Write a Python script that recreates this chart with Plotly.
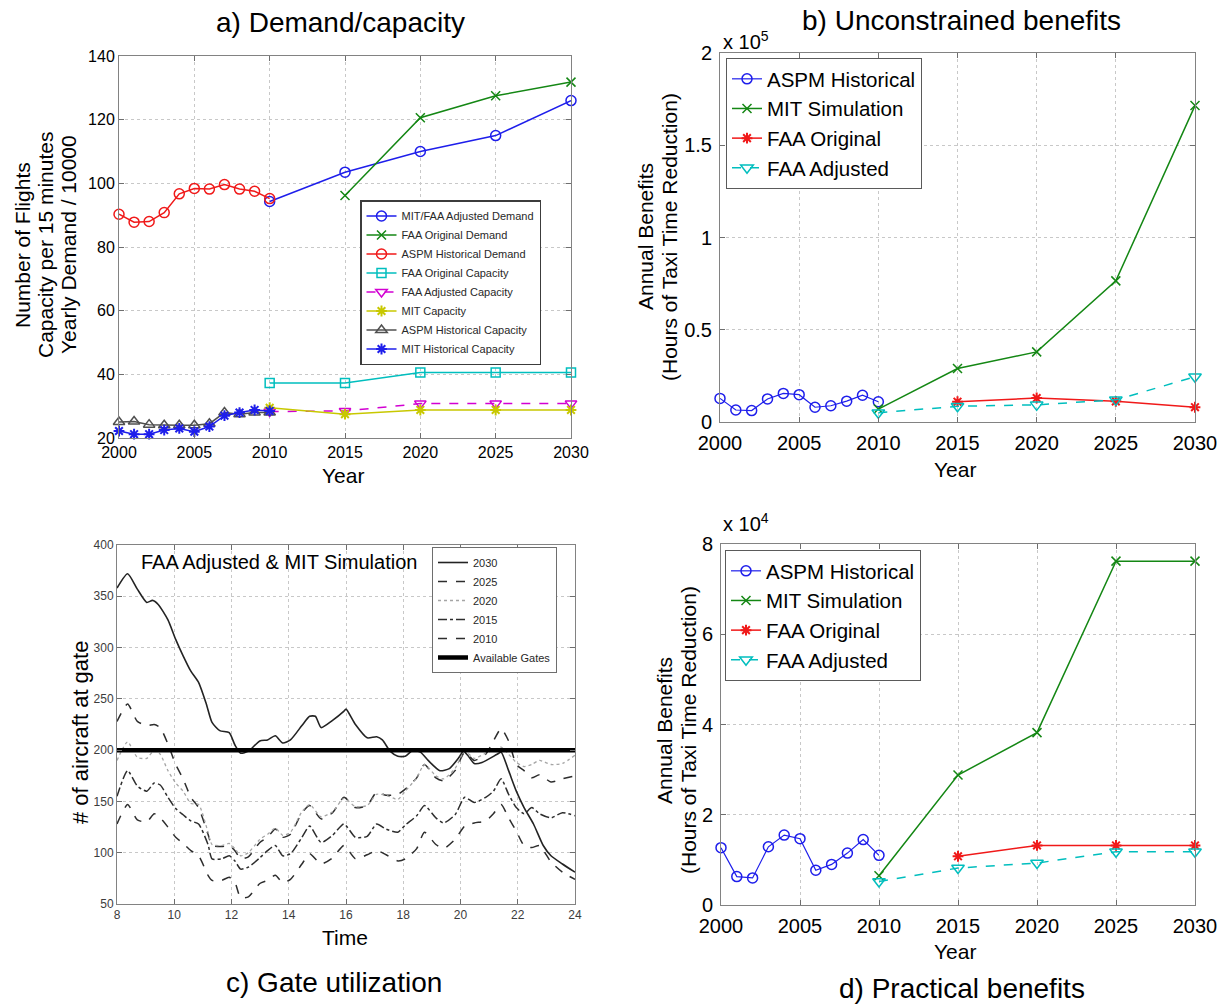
import plotly.graph_objects as go

W, H = 1225, 1007
FONT = "Liberation Sans, Arial, sans-serif"

# ---------------- a) Demand / capacity ----------------
years_hist = list(range(2000, 2011))
years_fc = [2010, 2015, 2020, 2025, 2030]
years_fc15 = [2015, 2020, 2025, 2030]

aspm_hist_demand = [90.3, 87.8, 88.0, 90.8, 96.7, 98.4, 98.2, 99.6, 98.2, 97.5, 95.2]
mit_faa_adj_demand = [94.3, 103.5, 110.0, 115.0, 126.0]
faa_orig_demand = [96.2, 120.6, 127.5, 131.8]
faa_orig_capacity = [37.3, 37.3, 40.6, 40.6, 40.6]
faa_adj_capacity = [28.3, 28.5, 30.8, 30.8, 30.8]
mit_capacity = [29.5, 27.5, 28.8, 28.8, 28.8]
aspm_hist_capacity = [25.0, 25.2, 24.2, 24.0, 24.0, 24.0, 24.5, 28.0, 27.5, 28.0, 28.0]
mit_hist_capacity = [22.2, 21.2, 21.2, 22.5, 23.0, 22.0, 23.6, 27.0, 28.0, 28.8, 28.5]

# ---------------- b) Unconstrained benefits (hours) ----------------
b_aspm_hist = [12800, 6500, 6200, 12500, 15500, 14800, 8000, 8800, 11300, 14500, 11000]
b_mit_sim = [7000, 29000, 38000, 76500, 171500]
b_faa_orig = [11000, 13000, 11200, 8000]
b_faa_adj = [5000, 8500, 9300, 12000, 24500]

# ---------------- d) Practical benefits (hours) ----------------
d_aspm_hist = [12700, 6300, 6000, 12900, 15500, 14700, 7700, 9000, 11500, 14500, 11000]
d_mit_sim = [6500, 28800, 38200, 76200, 76200]
d_faa_orig = [10800, 13200, 13200, 13200]
d_faa_adj = [5200, 8200, 9300, 11800, 11800]

# ---------------- c) Gate utilization ----------------
t_2030 = [8.0, 8.37, 8.71, 9.04, 9.24, 9.44, 9.78, 10.05, 10.31, 10.58, 10.85, 11.12, 11.32,
          11.59, 11.92, 12.12, 12.32, 12.59, 12.99, 13.26, 13.53, 13.79, 14.06, 14.46, 14.73,
          14.93, 15.13, 15.53, 15.93, 16.0, 16.33, 16.74, 17.07, 17.27, 17.54, 17.81, 18.07,
          18.34, 18.6, 18.87, 19.28, 19.61, 19.95, 20.1, 20.25, 20.48, 20.75, 21.28, 21.42,
          21.68, 21.95, 22.22, 22.55, 22.89, 23.16, 23.56, 24.0]
g_2030 = [358, 372, 357, 344, 346, 342, 327, 308, 292, 277, 266, 245, 227,
          219, 217, 205, 197, 199, 209, 210, 214, 207, 210, 224, 233,
          233, 222, 229, 238, 240, 225, 212, 213, 210, 199, 194, 194,
          200, 198, 190, 180, 182, 193, 199, 195, 187, 188, 196, 198,
          180, 160, 144, 128, 107, 97, 89, 81]

t_fc = [8.0, 8.37, 8.71, 9.04, 9.3, 9.51, 9.78, 10.05, 10.31, 10.58, 10.85, 11.18, 11.32,
        11.65, 11.92, 12.12, 12.32, 12.59, 12.99, 13.26, 13.53, 13.79, 14.06, 14.46, 14.73,
        15.13, 15.53, 15.93, 16.33, 16.74, 17.07, 17.4, 17.81, 18.07, 18.47, 18.74, 19.14,
        19.41, 19.81, 20.15, 20.48, 20.88, 21.15, 21.42, 21.68, 21.95, 22.22, 22.49, 22.76,
        23.16, 23.56, 24.0]
g_2025 = [228, 245, 228, 224, 225, 222, 206, 186, 172, 154, 144, 118, 107,
          106, 107, 102, 94, 96, 110, 115, 123, 115, 118, 139, 146,
          133, 139, 154, 144, 146, 159, 156, 157, 162, 173, 186, 173,
          170, 180, 198, 190, 196, 209, 221, 209, 186, 180, 173, 176,
          169, 172, 175]
g_2020 = [190, 208, 193, 192, 200, 196, 180, 168, 160, 148, 147, 120, 108,
          107, 109, 104, 97, 100, 113, 118, 124, 117, 120, 140, 147,
          135, 140, 153, 145, 146, 157, 156, 152, 160, 173, 186, 175,
          172, 182, 199, 192, 197, 200, 203, 196, 188, 184, 186, 190,
          186, 187, 195]
g_2015 = [155, 180, 165, 160, 168, 166, 154, 143, 137, 131, 128, 108, 94,
          94, 97, 92, 84, 86, 95, 102, 107, 97, 99, 115, 126,
          110, 117, 128, 115, 116, 128, 123, 120, 127, 136, 146, 134,
          129, 137, 154, 149, 154, 160, 172, 157, 144, 138, 144, 138,
          134, 139, 136]
g_2010 = [128, 147, 132, 130, 138, 134, 125, 115, 109, 102, 97, 78, 73,
          73, 76, 71, 56, 57, 70, 73, 78, 71, 74, 89, 99,
          89, 95, 107, 94, 98, 102, 98, 92, 94, 104, 120, 108,
          104, 113, 126, 129, 131, 138, 147, 134, 121, 107, 105, 107,
          91, 81, 74]
gate_t = [8, 24]
gate_cap = [200, 200]

BLUE = "rgb(30,30,235)"
GREEN = "rgb(20,135,20)"
RED = "rgb(240,25,25)"
CYAN = "rgb(0,190,190)"
MAGENTA = "rgb(210,0,210)"
YELLOW = "rgb(200,200,0)"
GRAY = "rgb(80,80,80)"


def px_x(p):
    return p / W


def px_y(p):
    return 1 - p / H


fig = go.Figure()


def add(x, y, name, color, symbol, xa, ya, legend, dash="solid", size=8, lw=1.5, mlw=1.5):
    fig.add_trace(go.Scatter(
        x=x, y=y, name=name, mode="lines+markers", xaxis=xa, yaxis=ya, legend=legend,
        line=dict(color=color, width=lw, dash=dash),
        marker=dict(symbol=symbol, size=size, color=color, line=dict(color=color, width=mlw)),
        cliponaxis=False))


# panel a traces
add(years_fc, mit_faa_adj_demand, "MIT/FAA Adjusted Demand", BLUE, "circle-open", "x", "y", "legend", size=10)
add(years_fc15, faa_orig_demand, "FAA Original Demand", GREEN, "x-thin-open", "x", "y", "legend", size=9)
add(years_hist, aspm_hist_demand, "ASPM Historical Demand", RED, "circle-open", "x", "y", "legend", size=10)
add(years_fc, faa_orig_capacity, "FAA Original Capacity", CYAN, "square-open", "x", "y", "legend", size=9)
add(years_fc, faa_adj_capacity, "FAA Adjusted Capacity", MAGENTA, "triangle-down-open", "x", "y", "legend", dash="dash", size=10)
add(years_fc, mit_capacity, "MIT Capacity", YELLOW, "asterisk-open", "x", "y", "legend", size=9, mlw=2)
add(years_hist, aspm_hist_capacity, "ASPM Historical Capacity", GRAY, "triangle-up-open", "x", "y", "legend", size=10)
add(years_hist, mit_hist_capacity, "MIT Historical Capacity", BLUE, "asterisk-open", "x", "y", "legend", size=9, mlw=2)

# panel b traces
add(years_hist, b_aspm_hist, "ASPM Historical", BLUE, "circle-open", "x2", "y2", "legend2", size=10, lw=1.2)
add(years_fc, b_mit_sim, "MIT Simulation", GREEN, "x-thin-open", "x2", "y2", "legend2", size=9)
add(years_fc15, b_faa_orig, "FAA Original", RED, "asterisk-open", "x2", "y2", "legend2", size=9, mlw=2)
add(years_fc, b_faa_adj, "FAA Adjusted", CYAN, "triangle-down-open", "x2", "y2", "legend2", dash="dash", size=11)

# panel d traces
add(years_hist, d_aspm_hist, "ASPM Historical", BLUE, "circle-open", "x4", "y4", "legend4", size=10, lw=1.2)
add(years_fc, d_mit_sim, "MIT Simulation", GREEN, "x-thin-open", "x4", "y4", "legend4", size=9)
add(years_fc15, d_faa_orig, "FAA Original", RED, "asterisk-open", "x4", "y4", "legend4", size=9, mlw=2)
add(years_fc, d_faa_adj, "FAA Adjusted", CYAN, "triangle-down-open", "x4", "y4", "legend4", dash="dash", size=11)

# panel c traces
c_series = [
    (t_2030, g_2030, "2030", "rgb(35,35,35)", "solid", 1.6),
    (t_fc, g_2025, "2025", "rgb(45,45,45)", "dash", 1.5),
    (t_fc, g_2020, "2020", "rgb(165,165,165)", "dot", 1.3),
    (t_fc, g_2015, "2015", "rgb(45,45,45)", "dashdot", 1.5),
    (t_fc, g_2010, "2010", "rgb(45,45,45)", "dash", 1.5),
]
for tx, gy, nm, col, dsh, w in c_series:
    fig.add_trace(go.Scatter(x=tx, y=gy, name=nm, mode="lines", xaxis="x3", yaxis="y3",
                             legend="legend3", line=dict(color=col, width=w, dash=dsh, shape="spline",
                                                         smoothing=0.6)))
fig.add_trace(go.Scatter(x=gate_t, y=gate_cap, name="Available Gates", mode="lines", xaxis="x3",
                         yaxis="y3", legend="legend3", line=dict(color="black", width=4.5)))

AX = dict(showline=True, mirror="ticks", linecolor="rgb(130,130,130)", linewidth=1,
          ticks="inside", ticklen=5, tickcolor="rgb(110,110,110)",
          showgrid=True, gridcolor="rgb(200,200,200)", griddash="dot", gridwidth=1,
          zeroline=False, automargin=False)

fig.update_layout(
    width=W, height=H, margin=dict(l=0, r=0, t=0, b=0, pad=0, autoexpand=False),
    paper_bgcolor="white", plot_bgcolor="white",
    font=dict(family=FONT, color="black"),
    xaxis=dict(AX, domain=[px_x(119), px_x(571)], range=[2000, 2030], tickvals=list(range(2000, 2031, 5)),
               tickfont=dict(size=16), anchor="y"),
    yaxis=dict(AX, domain=[px_y(438), px_y(56)], range=[20, 140], tickvals=list(range(20, 141, 20)),
               tickfont=dict(size=16), anchor="x"),
    xaxis2=dict(AX, domain=[px_x(720), px_x(1195)], range=[2000, 2030], tickvals=list(range(2000, 2031, 5)),
                tickfont=dict(size=20), anchor="y2", ticklabelstandoff=3),
    yaxis2=dict(AX, domain=[px_y(422), px_y(53)], range=[0, 200000],
                tickvals=[0, 50000, 100000, 150000, 200000], ticktext=["0", "0.5", "1", "1.5", "2"],
                tickfont=dict(size=20), anchor="x2", ticklabelstandoff=3),
    xaxis3=dict(AX, domain=[px_x(117), px_x(575)], range=[8, 24], tickvals=list(range(8, 25, 2)),
                tickfont=dict(size=12, color="rgb(60,60,60)"), anchor="y3"),
    yaxis3=dict(AX, domain=[px_y(904), px_y(545)], range=[50, 400], tickvals=list(range(50, 401, 50)),
                tickfont=dict(size=12, color="rgb(60,60,60)"), anchor="x3"),
    xaxis4=dict(AX, domain=[px_x(721), px_x(1195)], range=[2000, 2030], tickvals=list(range(2000, 2031, 5)),
                tickfont=dict(size=20), anchor="y4", ticklabelstandoff=3),
    yaxis4=dict(AX, domain=[px_y(905), px_y(544)], range=[0, 80000],
                tickvals=[0, 20000, 40000, 60000, 80000], ticktext=["0", "2", "4", "6", "8"],
                tickfont=dict(size=20), anchor="x4", ticklabelstandoff=3),
    legend=dict(x=px_x(360), y=px_y(200), xanchor="left", yanchor="top", bgcolor="white",
                bordercolor="rgb(60,60,60)", borderwidth=1.5, font=dict(size=11, color="rgb(40,40,40)"),
                tracegroupgap=0, itemwidth=30),
    legend2=dict(x=px_x(726), y=px_y(58), xanchor="left", yanchor="top", bgcolor="white",
                 bordercolor="rgb(90,90,90)", borderwidth=1, font=dict(size=20.5), itemwidth=30),
    legend3=dict(x=px_x(432), y=px_y(547), xanchor="left", yanchor="top", bgcolor="white",
                 bordercolor="rgb(110,110,110)", borderwidth=1, font=dict(size=11, color="rgb(40,40,40)"),
                 itemwidth=30),
    legend4=dict(x=px_x(725), y=px_y(550), xanchor="left", yanchor="top", bgcolor="white",
                 bordercolor="rgb(90,90,90)", borderwidth=1, font=dict(size=20.5), itemwidth=30),
    showlegend=True,
)


def note(text, x, y, size, angle=0, xanchor="center", yanchor="middle", color="black"):
    fig.add_annotation(text=text, x=px_x(x), y=px_y(y), xref="paper", yref="paper", showarrow=False,
                       textangle=angle, xanchor=xanchor, yanchor=yanchor,
                       font=dict(size=size, family=FONT, color=color))


# titles and captions
note("a) Demand/capacity", 340, 22, 28)
note("b) Unconstrained benefits", 961, 20, 28)
note("c) Gate utilization", 334, 982, 28)
note("d) Practical benefits", 962, 988, 28)

# axis titles (one annotation per line for tight line spacing)
note("Number of Flights", 22, 245, 21, angle=-90)
note("Capacity per 15 minutes", 45, 245, 21, angle=-90)
note("Yearly Demand / 10000", 68, 245, 21, angle=-90)
note("Year", 343, 475, 21)
note("Annual Benefits", 645, 237, 21, angle=-90)
note("(Hours of Taxi Time Reduction)", 669, 237, 21, angle=-90)
note("Year", 955, 469, 21)
note("# of aircraft at gate", 80, 733, 22, angle=-90)
note("Time", 345, 937, 21)
note("Annual Benefits", 664, 730, 21, angle=-90)
note("(Hours of Taxi Time Reduction)", 688, 730, 21, angle=-90)
note("Year", 955, 951, 21)

# scale factors and inset label
note("x 10<sup>5</sup>", 721, 40, 20, xanchor="left")
note("x 10<sup>4</sup>", 721, 522, 20, xanchor="left")
note("FAA Adjusted & MIT Simulation", 139, 562, 20, xanchor="left")

fig.write_html("out.html")
